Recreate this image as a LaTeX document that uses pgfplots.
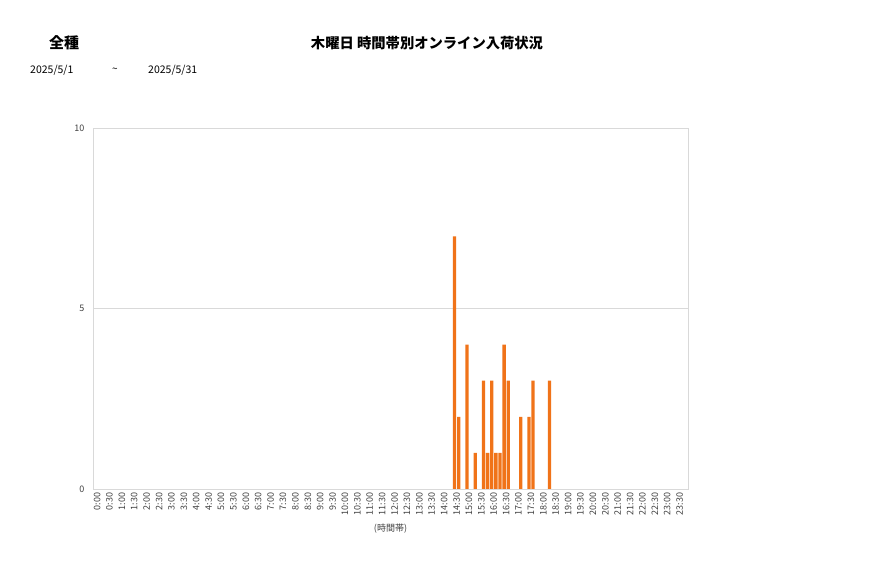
\documentclass[border=0pt]{standalone}
\usepackage{pgfplots}
\pgfplotsset{compat=1.18}
\usepackage{fontspec}
\setmainfont{Noto Sans CJK JP}
\definecolor{barorange}{RGB}{240,115,25}
\definecolor{gridgray}{RGB}{217,217,217}
\definecolor{txtgray}{RGB}{64,64,64}
\begin{document}
\begin{tikzpicture}
\useasboundingbox (0pt,0pt) rectangle (877pt,578pt);
\node[font=\fontsize{15}{15}\selectfont\bfseries] at (64pt,535pt) {全種};
\node[font=\fontsize{14.3}{15}\selectfont\bfseries] at (427pt,535pt) {木曜日 時間帯別オンライン入荷状況};
\node[font=\fontsize{10.5}{10}\selectfont, anchor=west, inner sep=0pt] at (30pt,508pt) {2025/5/1};
\node[font=\fontsize{10}{10}\selectfont, inner sep=0pt] at (115pt,508pt) {\textasciitilde};
\node[font=\fontsize{10.5}{10}\selectfont, anchor=west, inner sep=0pt] at (148pt,508pt) {2025/5/31};
\node[font=\fontsize{9}{9}\selectfont, text=txtgray] at (390.5pt,49pt) {(時間帯)};
\begin{axis}[
  at={(93pt,89pt)}, anchor=south west,
  scale only axis, width=595pt, height=361pt,
  ybar, bar width=0.8,
  xmin=-0.5, xmax=143.5, ymin=0, ymax=10,
  ytick={0,5,10},
  xtick={0,3,...,141},
  xticklabels={0:00,0:30,1:00,1:30,2:00,2:30,3:00,3:30,4:00,4:30,5:00,5:30,6:00,6:30,7:00,7:30,8:00,8:30,9:00,9:30,10:00,10:30,11:00,11:30,12:00,12:30,13:00,13:30,14:00,14:30,15:00,15:30,16:00,16:30,17:00,17:30,18:00,18:30,19:00,19:30,20:00,20:30,21:00,21:30,22:00,22:30,23:00,23:30},
  axis line style={gridgray},
  ymajorgrids, grid style={gridgray},
  major tick length=0pt,
  tick label style={font=\fontsize{9}{9}\selectfont, text=txtgray},
  xticklabel style={rotate=90, anchor=east, yshift=-2pt},
  yticklabel style={xshift=-5pt},
  /pgf/number format/assume math mode=true,
]
\addplot[fill=barorange, draw=none] coordinates {
(87,7) (88,2) (90,4) (92,1) (94,3) (95,1) (96,3) (97,1) (98,1) (99,4) (100,3) (103,2) (105,2) (106,3) (110,3)
};
\end{axis}
\end{tikzpicture}
\end{document}
